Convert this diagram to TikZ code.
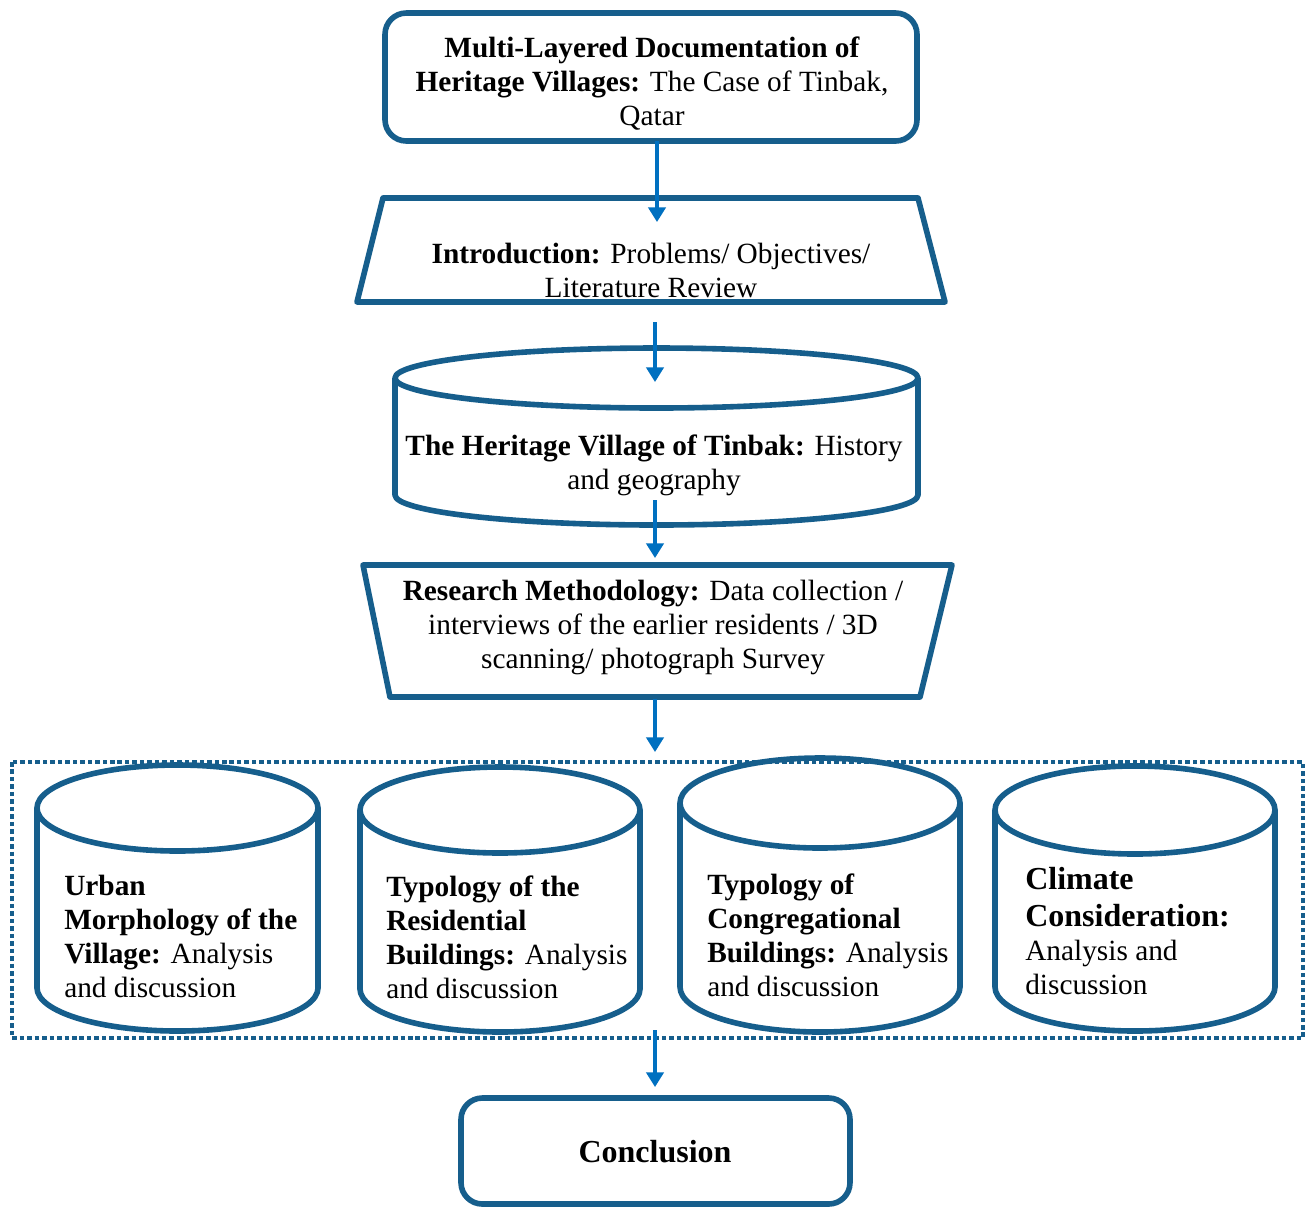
\documentclass[tikz,border=0pt]{standalone}
\usepackage{fontspec}
\setmainfont{Liberation Serif}
\usetikzlibrary{arrows.meta,calc}
\definecolor{bord}{RGB}{22,94,140}
\definecolor{arr}{RGB}{0,112,192}
\tikzset{
  shp/.style={draw=bord, line width=4.2pt, line join=round},
  flow/.style={draw=arr, line width=2.4pt, -{Triangle[width=13pt,length=11pt]}},
  txt/.style={inner sep=0pt, align=center, font=\fontsize{22}{25.5}\selectfont},
  ltxt/.style={inner sep=0pt, align=left, anchor=west, font=\fontsize{22}{25.5}\selectfont},
  dotframe/.style={draw=bord, line width=3.6pt, dash pattern=on 3.4pt off 2.2pt},
}
% x1, x2, top-ellipse centre y, bottom-ellipse centre y, y radius (all in px)
\newcommand\drawcyl[5]{%
  \draw[shp] ({(#1+#2)/2},#3) ellipse [x radius={(#2-#1)*0.375pt}, y radius={#5*0.75pt}];
  \draw[shp] (#1,#3) -- (#1,#4) arc[start angle=180, end angle=360, x radius={(#2-#1)*0.375pt}, y radius={#5*0.75pt}] -- (#2,#3);
}
\begin{document}
\begin{tikzpicture}[x=0.75pt, y=-0.75pt]
\fill[white] (0,0) rectangle (1306,1208);
\useasboundingbox (0,0) rectangle (1306,1208);

% ---- title box
\draw[shp, rounded corners=16pt] (385,13) rectangle (917,141);
\node[txt] (top) at (652,84) {\textbf{Multi-Layered Documentation of}\\\textbf{Heritage Villages:} The Case of Tinbak,\\Qatar};
\coordinate (topS) at (657,141);

% ---- introduction trapezoid
\draw[shp] (383,198) -- (918,198) -- (945,302) -- (357,302) -- cycle;
\node[txt] (intro) at (651,270) {\textbf{Introduction:} Problems/ Objectives/\\Literature Review};
\coordinate (introN) at (657,222);
\coordinate (introS) at (655,322);

% ---- history cylinder
\drawcyl{395}{918}{378}{495}{30}
\node[txt] (hist) at (654,465) {\textbf{The Heritage Village of Tinbak:} History\\and geography};
\coordinate (histN) at (655,382);
\coordinate (histS) at (655,500);

% ---- methodology trapezoid
\draw[shp] (363,565) -- (952,565) -- (920,697) -- (390,697) -- cycle;
\node[txt] (meth) at (653,627) {\textbf{Research Methodology:} Data collection /\\interviews of the earlier residents / 3D\\scanning/ photograph Survey};
\coordinate (methN) at (655,558);
\coordinate (methS) at (655,699);

% ---- dotted frame
\draw[dotframe] (12,762) rectangle (1303,1038);
\coordinate (frameN) at (655,752);
\coordinate (frameS) at (655,1030);

% ---- four cylinders
\drawcyl{37}{318}{808}{988}{43}
\drawcyl{360}{640}{810}{989}{43}
\drawcyl{680}{960}{803}{987}{45}
\drawcyl{995}{1275}{810}{987}{44}
\node[ltxt] (c1) at (64,936) {\textbf{Urban}\\\textbf{Morphology of the}\\\textbf{Village:} Analysis\\and discussion};
\node[ltxt] (c2) at (386,937) {\textbf{Typology of the}\\\textbf{Residential}\\\textbf{Buildings:} Analysis\\and discussion};
\node[ltxt] (c3) at (707,935) {\textbf{Typology of}\\\textbf{Congregational}\\\textbf{Buildings:} Analysis\\and discussion};
\node[ltxt] (c4) at (1025,931) {{\fontsize{24}{28}\selectfont\textbf{Climate}}\\[2pt]{\fontsize{24}{28}\selectfont\textbf{Consideration:}}\\Analysis and\\discussion};

% ---- conclusion
\draw[shp, rounded corners=16pt] (461,1098) rectangle (850,1204);
\node[txt, font=\fontsize{24}{28}\selectfont] (concl) at (655,1152) {\textbf{Conclusion}};
\coordinate (conclN) at (655,1087);

% ---- connectors
\draw[flow] (topS) -- (introN);
\draw[flow] (introS) -- (histN);
\draw[flow] (histS) -- (methN);
\draw[flow] (methS) -- (frameN);
\draw[flow] (frameS) -- (conclN);
\end{tikzpicture}
\end{document}
